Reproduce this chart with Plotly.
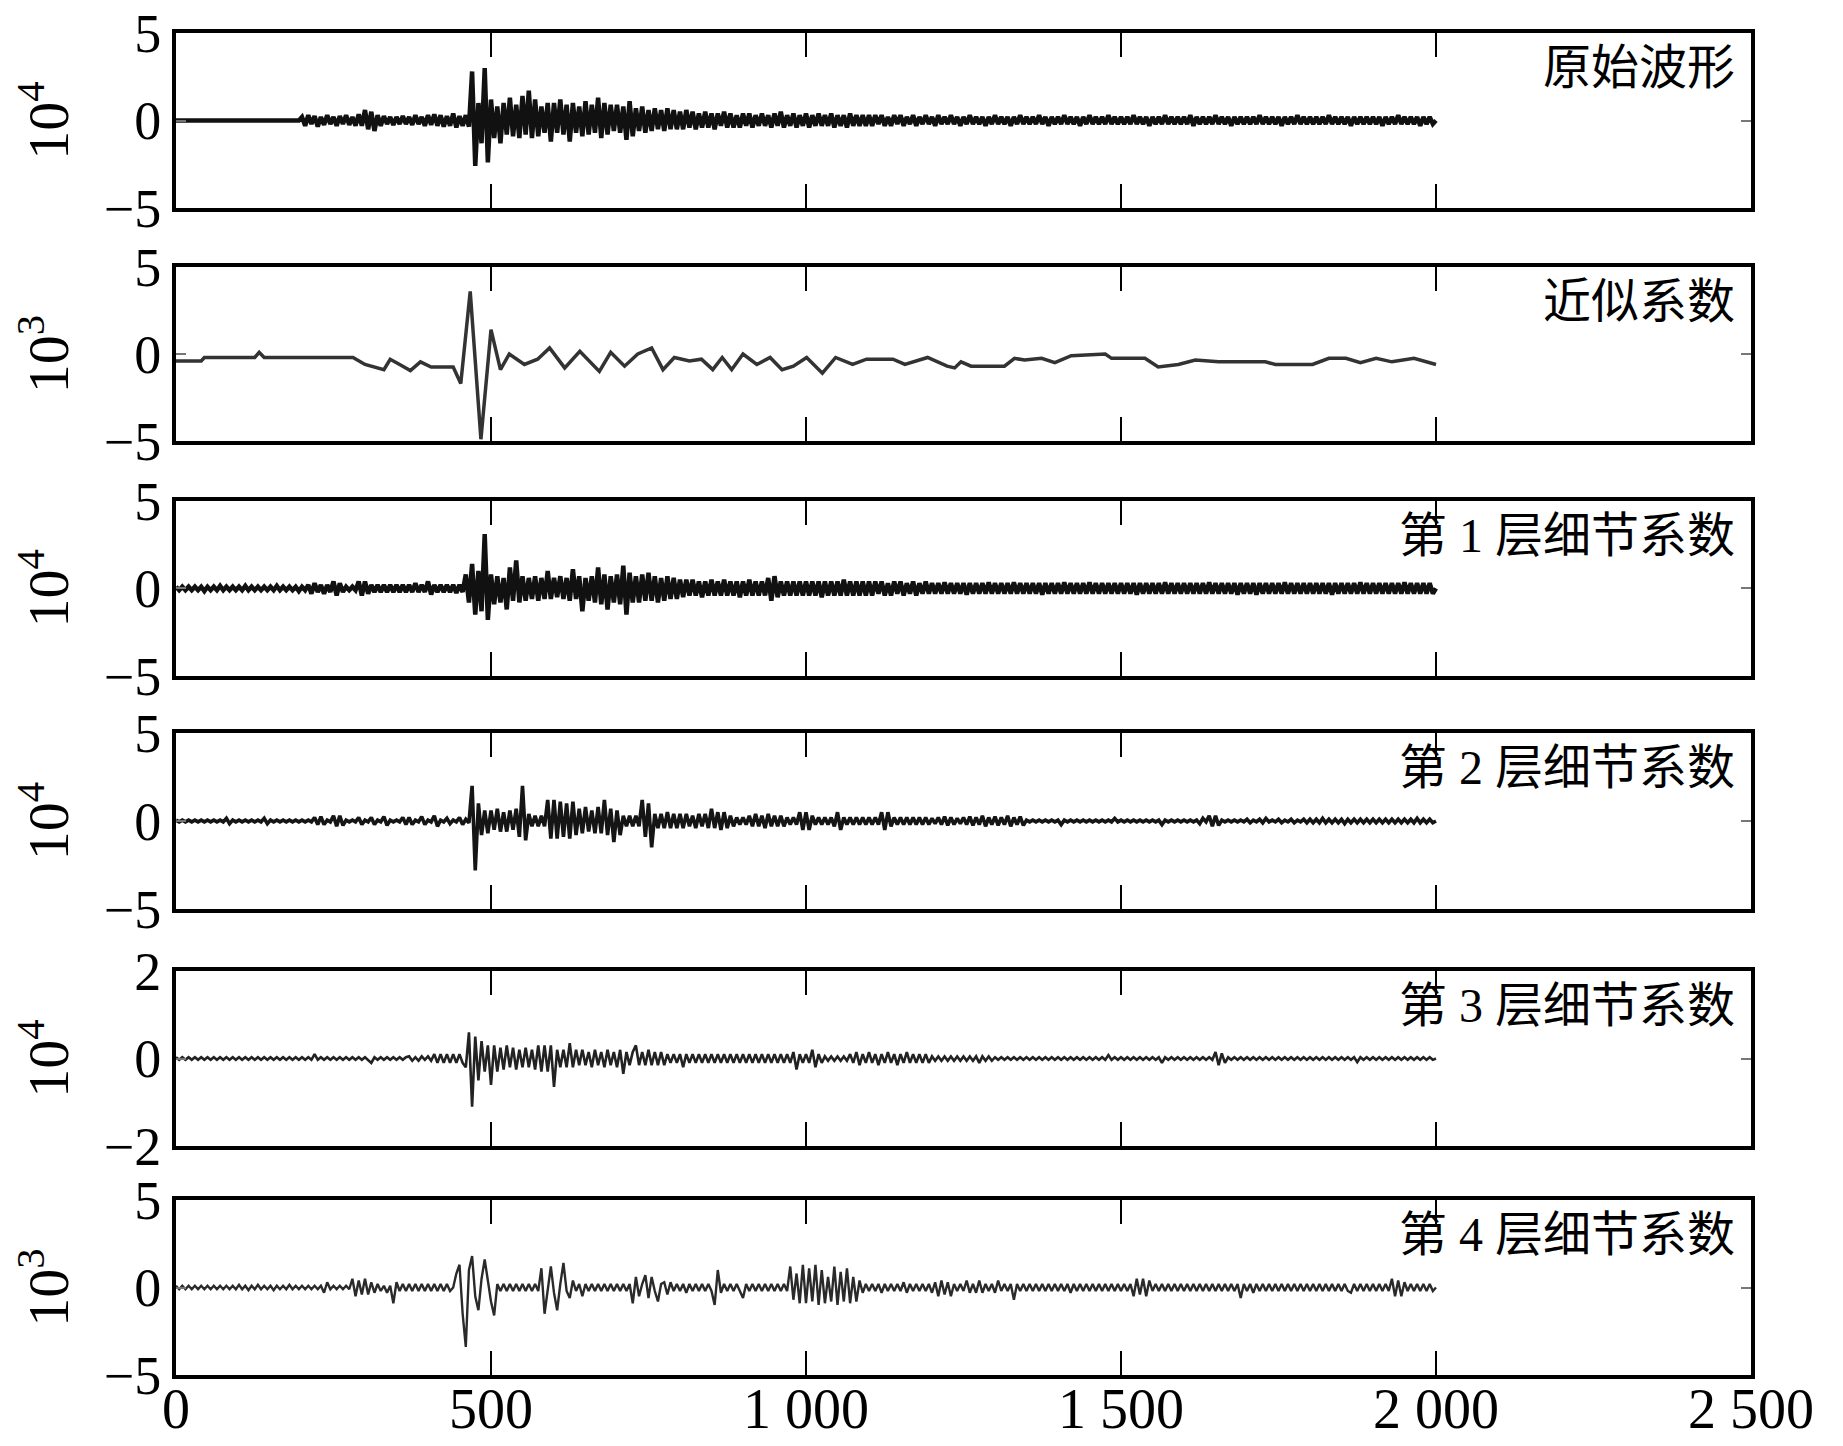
import plotly.graph_objects as go

# ---------------- data ----------------
x_tick_vals = [0, 500, 1000, 1500, 2000, 2500]
x_tick_text = ["0", "500", "1 000", "1 500", "2 000", "2 500"]
sample_step = 5

panel_labels = ["原始波形", "近似系数", "第 1 层细节系数", "第 2 层细节系数", "第 3 层细节系数", "第 4 层细节系数"]
panel_exponents = ["10<sup>4</sup>", "10<sup>3</sup>", "10<sup>4</sup>", "10<sup>4</sup>", "10<sup>4</sup>", "10<sup>3</sup>"]
panel_limits = [5, 5, 5, 5, 2, 5]

# original waveform (x10^4), one value every 5 samples, 0..2000
orig_vals = [
    0,0,0,0,0,0,0,0,0,0,0,0,0,0,0,0,0,0,0,0,
    0,0,0,0,0,0,0,0,0,0,0,0,0,0,0,0,0,0,0,0,
    0.2,-0.3,0.3,-0.2,0.25,-0.35,0.2,-0.25,0.3,-0.2,0.2,-0.3,0.25,-0.2,0.3,-0.25,0.2,-0.3,0.35,-0.3,
    0.6,-0.5,0.5,-0.6,0.3,-0.3,0.25,-0.2,0.2,-0.25,0.2,-0.2,0.25,-0.2,0.2,-0.25,0.3,-0.2,0.2,-0.3,
    0.3,-0.25,0.35,-0.3,0.3,-0.35,0.25,-0.3,0.4,-0.4,0.25,-0.3,0.3,-0.35,2.8,-2.6,1.0,-1.3,3.0,-2.4,
    1.2,-1.0,0.8,-1.3,1.0,-0.8,1.3,-0.9,0.9,-1.0,1.4,-0.8,1.7,-1.0,1.2,-0.9,0.8,-0.7,1.0,-1.2,
    1.0,-0.7,1.2,-0.8,0.9,-1.2,1.0,-0.7,0.8,-0.9,1.1,-0.8,0.9,-0.7,1.3,-1.0,1.0,-0.8,0.9,-0.6,
    0.9,-0.7,0.8,-1.1,1.1,-0.9,0.7,-0.6,0.8,-0.7,0.6,-0.6,0.7,-0.5,0.6,-0.6,0.7,-0.5,0.6,-0.5,
    0.5,-0.5,0.6,-0.4,0.5,-0.5,0.4,-0.4,0.5,-0.4,0.4,-0.5,0.4,-0.3,0.5,-0.4,0.4,-0.4,0.3,-0.4,
    0.4,-0.3,0.4,-0.4,0.3,-0.3,0.4,-0.3,0.3,-0.4,0.4,-0.3,0.5,-0.4,0.3,-0.3,0.4,-0.4,0.3,-0.3,
    0.4,-0.4,0.3,-0.3,0.4,-0.3,0.3,-0.3,0.4,-0.4,0.3,-0.3,0.3,-0.4,0.4,-0.3,0.3,-0.3,0.3,-0.3,
    0.3,-0.3,0.3,-0.2,0.3,-0.3,0.2,-0.3,0.3,-0.2,0.3,-0.3,0.2,-0.2,0.3,-0.3,0.2,-0.2,0.3,-0.2,
    0.2,-0.3,0.3,-0.2,0.2,-0.2,0.3,-0.2,0.2,-0.3,0.2,-0.2,0.3,-0.2,0.2,-0.2,0.2,-0.3,0.2,-0.2,
    0.3,-0.2,0.2,-0.2,0.2,-0.3,0.2,-0.2,0.3,-0.2,0.2,-0.2,0.2,-0.2,0.3,-0.2,0.2,-0.3,0.2,-0.2,
    0.2,-0.2,0.3,-0.2,0.2,-0.2,0.2,-0.3,0.2,-0.2,0.3,-0.2,0.2,-0.2,0.2,-0.2,0.3,-0.2,0.2,-0.2,
    0.2,-0.2,0.2,-0.2,0.3,-0.2,0.2,-0.2,0.2,-0.3,0.2,-0.2,0.2,-0.2,0.3,-0.2,0.2,-0.2,0.2,-0.2,
    0.2,-0.2,0.3,-0.3,0.2,-0.2,0.2,-0.2,0.2,-0.2,0.3,-0.2,0.2,-0.2,0.2,-0.3,0.2,-0.2,0.2,-0.2,
    0.2,-0.2,0.2,-0.2,0.3,-0.2,0.2,-0.2,0.2,-0.2,0.2,-0.3,0.2,-0.2,0.2,-0.2,0.3,-0.2,0.2,-0.2,
    0.2,-0.2,0.2,-0.2,0.2,-0.2,0.3,-0.2,0.2,-0.2,0.2,-0.2,0.2,-0.3,0.2,-0.2,0.2,-0.2,0.2,-0.2,
    0.2,-0.2,0.2,-0.3,0.2,-0.2,0.2,-0.2,0.3,-0.2,0.2,-0.2,0.2,-0.2,0.2,-0.3,0.2,-0.2,0.2,-0.2,
    0.0,
]

# approximation coefficients (x10^3): breakpoints
approx_x = [0, 40, 45, 125, 132, 140, 281, 300, 330, 340, 355, 372, 388, 405, 440, 452, 467, 484, 500,
            515, 529, 553, 574, 593, 617, 641, 672, 690, 712, 733, 755, 773, 791, 815, 834, 852, 867,
            882, 900, 922, 943, 962, 980, 1001, 1026, 1047, 1074, 1096, 1138, 1157, 1193, 1224, 1236,
            1246, 1262, 1315, 1331, 1347, 1374, 1395, 1421, 1475, 1485, 1538, 1559, 1591, 1618, 1655,
            1729, 1745, 1804, 1830, 1857, 1880, 1905, 1930, 1965, 2000]
approx_y = [-0.4, -0.4, -0.2, -0.2, 0.1, -0.2, -0.2, -0.6, -0.9, -0.3, -0.6, -0.95, -0.45, -0.75, -0.75,
            -1.7, 3.6, -4.9, 1.4, -0.9, 0.0, -0.6, -0.3, 0.35, -0.8, 0.15, -1.0, 0.1, -0.7, 0.0, 0.35,
            -0.9, -0.2, -0.4, -0.3, -0.9, -0.2, -0.9, 0.0, -0.6, -0.2, -0.9, -0.7, -0.2, -1.1, -0.2,
            -0.6, -0.3, -0.3, -0.6, -0.2, -0.7, -0.8, -0.45, -0.7, -0.7, -0.25, -0.35, -0.25, -0.5,
            -0.1, 0.0, -0.25, -0.25, -0.75, -0.6, -0.35, -0.45, -0.45, -0.6, -0.6, -0.25, -0.25, -0.5,
            -0.25, -0.45, -0.25, -0.6]

# level-1 detail (x10^4)
d1_vals = [
    0.1,-0.1,0.1,-0.1,0.1,-0.1,0.1,-0.1,0.1,-0.15,0.1,-0.1,0.1,-0.1,0.15,-0.1,0.1,-0.1,0.1,-0.1,
    0.1,-0.1,0.15,-0.1,0.1,-0.1,0.1,-0.1,0.1,-0.1,0.1,-0.1,0.15,-0.1,0.1,-0.1,0.1,-0.1,0.1,-0.15,
    0.1,-0.1,0.2,-0.3,0.3,-0.2,0.2,-0.3,0.2,-0.2,0.4,-0.4,0.3,-0.2,0.1,-0.1,0.1,-0.1,0.4,-0.4,
    0.4,-0.3,0.2,-0.2,0.2,-0.2,0.2,-0.2,0.2,-0.2,0.2,-0.2,0.2,-0.2,0.2,-0.2,0.3,-0.2,0.2,-0.2,
    0.4,-0.35,0.2,-0.2,0.2,-0.2,0.2,-0.2,0.2,-0.25,0.2,-0.2,0.8,-0.8,1.4,-1.5,1.0,-1.3,3.1,-1.8,
    0.8,-0.9,0.7,-0.8,0.6,-1.2,1.2,-0.7,1.6,-0.8,0.7,-0.7,0.6,-0.6,0.7,-0.7,0.6,-0.6,1.0,-0.6,
    0.6,-0.5,0.7,-0.6,0.6,-0.7,1.1,-0.6,0.7,-1.3,0.6,-0.7,0.7,-0.8,1.2,-0.9,0.8,-1.2,0.7,-0.8,
    0.8,-0.9,1.3,-1.5,0.9,-0.8,0.7,-0.8,0.8,-0.7,0.9,-0.7,0.7,-0.8,0.6,-0.7,0.7,-0.6,0.6,-0.6,
    0.5,-0.5,0.5,-0.4,0.5,-0.4,0.4,-0.5,0.4,-0.4,0.5,-0.4,0.4,-0.4,0.5,-0.4,0.4,-0.4,0.4,-0.5,
    0.4,-0.4,0.5,-0.4,0.4,-0.4,0.4,-0.4,0.6,-0.7,0.7,-0.5,0.4,-0.4,0.4,-0.4,0.4,-0.4,0.4,-0.4,
    0.4,-0.4,0.4,-0.4,0.4,-0.5,0.4,-0.4,0.4,-0.4,0.4,-0.4,0.5,-0.4,0.4,-0.4,0.4,-0.4,0.4,-0.4,
    0.4,-0.4,0.4,-0.3,0.4,-0.4,0.3,-0.4,0.4,-0.3,0.4,-0.4,0.3,-0.3,0.4,-0.4,0.3,-0.3,0.4,-0.3,
    0.3,-0.3,0.3,-0.3,0.35,-0.3,0.3,-0.3,0.3,-0.3,0.3,-0.35,0.3,-0.3,0.3,-0.3,0.3,-0.3,0.35,-0.3,
    0.3,-0.3,0.3,-0.3,0.3,-0.3,0.35,-0.3,0.3,-0.3,0.3,-0.3,0.3,-0.3,0.3,-0.35,0.3,-0.3,0.3,-0.3,
    0.3,-0.3,0.35,-0.3,0.3,-0.3,0.3,-0.3,0.3,-0.3,0.35,-0.3,0.3,-0.3,0.3,-0.3,0.3,-0.3,0.3,-0.3,
    0.3,-0.3,0.3,-0.3,0.3,-0.35,0.3,-0.3,0.3,-0.3,0.3,-0.3,0.3,-0.3,0.35,-0.3,0.3,-0.3,0.3,-0.3,
    0.3,-0.3,0.3,-0.3,0.3,-0.3,0.3,-0.3,0.35,-0.3,0.3,-0.3,0.3,-0.3,0.3,-0.3,0.3,-0.35,0.3,-0.3,
    0.3,-0.3,0.3,-0.35,0.3,-0.3,0.3,-0.3,0.3,-0.3,0.3,-0.3,0.35,-0.3,0.3,-0.3,0.3,-0.3,0.3,-0.3,
    0.3,-0.3,0.3,-0.3,0.3,-0.3,0.3,-0.35,0.3,-0.3,0.3,-0.3,0.3,-0.3,0.3,-0.3,0.35,-0.3,0.3,-0.3,
    0.3,-0.3,0.3,-0.3,0.3,-0.3,0.3,-0.3,0.3,-0.3,0.35,-0.3,0.3,-0.3,0.3,-0.3,0.3,-0.3,0.3,-0.3,
    0.0,
]

# level-2 detail (x10^4)
d2_vals = [
    0.05,-0.05,0.05,-0.05,0.05,-0.05,0.05,-0.05,0.05,-0.05,0.05,-0.05,0.05,-0.05,0.05,-0.05,0.15,-0.15,0.05,-0.05,
    0.05,-0.05,0.05,-0.05,0.05,-0.05,0.05,-0.05,0.15,-0.15,0.05,-0.05,0.05,-0.05,0.05,-0.05,0.05,-0.05,0.05,-0.05,
    0.05,-0.05,0.05,-0.05,0.2,-0.2,0.25,-0.2,0.05,-0.05,0.3,-0.3,0.3,-0.25,0.05,-0.05,0.05,-0.05,0.2,-0.2,
    0.05,-0.05,0.2,-0.2,0.05,-0.05,0.25,-0.25,0.05,-0.05,0.05,-0.05,0.2,-0.2,0.2,-0.2,0.05,-0.05,0.25,-0.2,
    0.05,-0.05,0.3,-0.3,0.05,-0.05,0.15,-0.15,0.05,-0.05,0.2,-0.2,0.1,-0.1,2.0,-2.8,1.0,-0.8,0.6,-0.7,
    0.6,-0.5,0.7,-0.6,0.5,-0.6,0.6,-0.5,0.7,-0.9,2.0,-1.1,0.4,-0.3,0.3,-0.3,0.3,-0.3,1.2,-1.0,
    1.2,-1.0,1.1,-0.9,1.0,-1.0,1.1,-0.8,0.7,-0.7,0.8,-0.6,0.6,-0.7,0.8,-0.7,1.2,-0.8,0.7,-1.2,
    0.6,-0.8,0.3,-0.3,0.3,-0.3,0.3,-0.3,1.2,-0.9,1.0,-1.5,0.4,-0.4,0.4,-0.4,0.5,-0.4,0.4,-0.4,
    0.4,-0.4,0.4,-0.3,0.3,-0.4,0.4,-0.3,0.4,-0.4,0.7,-0.4,0.5,-0.5,0.5,-0.4,0.3,-0.3,0.2,-0.2,
    0.2,-0.2,0.3,-0.3,0.4,-0.3,0.3,-0.4,0.4,-0.3,0.3,-0.3,0.3,-0.3,0.2,-0.2,0.2,-0.2,0.5,-0.5,
    0.5,-0.5,0.3,-0.2,0.2,-0.2,0.2,-0.2,0.2,-0.3,0.5,-0.5,0.2,-0.2,0.2,-0.2,0.2,-0.2,0.2,-0.2,
    0.2,-0.2,0.2,-0.2,0.5,-0.5,0.5,-0.3,0.2,-0.2,0.2,-0.2,0.2,-0.2,0.2,-0.2,0.2,-0.2,0.2,-0.2,
    0.15,-0.15,0.2,-0.2,0.25,-0.25,0.2,-0.2,0.15,-0.15,0.2,-0.2,0.25,-0.25,0.2,-0.2,0.3,-0.3,0.2,-0.2,
    0.25,-0.25,0.2,-0.2,0.3,-0.3,0.2,-0.2,0.25,-0.25,0.05,-0.05,0.05,-0.05,0.05,-0.05,0.05,-0.05,0.05,-0.05,
    0.05,-0.2,0.05,-0.05,0.05,-0.05,0.05,-0.05,0.05,-0.05,0.05,-0.05,0.05,-0.05,0.05,-0.05,0.05,-0.05,0.15,-0.05,
    0.05,-0.05,0.05,-0.05,0.05,-0.05,0.05,-0.05,0.05,-0.05,0.05,-0.05,0.05,-0.2,0.05,-0.05,0.05,-0.05,0.05,-0.05,
    0.05,-0.05,0.05,-0.05,0.05,-0.15,0.15,-0.05,0.3,-0.3,0.3,-0.25,0.05,-0.05,0.05,-0.05,0.05,-0.05,0.05,-0.05,
    0.1,-0.1,0.05,-0.05,0.1,-0.1,0.15,-0.05,0.05,-0.05,0.1,-0.1,0.05,-0.05,0.1,-0.1,0.05,-0.05,0.1,-0.1,
    0.1,-0.1,0.1,-0.1,0.15,-0.1,0.1,-0.1,0.1,-0.1,0.1,-0.15,0.1,-0.1,0.1,-0.1,0.1,-0.1,0.1,-0.1,
    0.1,-0.1,0.1,-0.1,0.1,-0.1,0.1,-0.1,0.1,-0.1,0.1,-0.1,0.1,-0.1,0.15,-0.1,0.1,-0.1,0.1,-0.1,
    0.0,
]

# level-3 detail (x10^4)
d3_vals = [
    0.03,-0.03,0.03,-0.03,0.03,-0.03,0.03,-0.03,0.03,-0.03,0.03,-0.03,0.03,-0.03,0.03,-0.03,0.03,-0.03,0.03,-0.03,
    0.03,-0.03,0.03,-0.03,0.03,-0.03,0.03,-0.03,0.03,-0.03,0.03,-0.03,0.03,-0.03,0.03,-0.03,0.03,-0.03,0.03,-0.03,
    0.03,-0.03,0.03,-0.03,0.1,-0.03,0.03,-0.03,0.03,-0.03,0.03,-0.03,0.03,-0.03,0.03,-0.03,0.03,-0.03,0.03,-0.03,
    0.03,-0.03,-0.1,0.03,-0.03,0.03,-0.03,0.03,-0.03,0.03,-0.03,0.03,-0.03,0.03,0.05,-0.05,0.03,-0.05,0.05,-0.03,
    0.05,-0.05,0.1,-0.1,0.1,-0.1,0.1,-0.1,0.1,-0.1,0.1,-0.1,-0.2,0.6,-1.1,0.5,-0.5,0.4,-0.3,0.3,
    -0.6,0.3,-0.3,0.25,-0.25,0.3,-0.2,0.25,-0.25,0.2,-0.2,0.25,-0.2,0.2,-0.25,0.3,-0.3,0.3,-0.3,0.3,
    -0.65,0.2,-0.2,0.2,-0.2,0.35,-0.2,0.2,-0.15,0.2,-0.15,0.15,-0.2,0.2,-0.15,0.15,-0.2,0.2,-0.15,0.15,
    -0.2,0.2,-0.35,0.15,-0.15,0.15,0.3,-0.15,0.15,-0.15,0.2,-0.15,0.15,-0.15,0.15,-0.15,0.1,-0.1,0.1,-0.1,
    0.1,-0.2,0.1,-0.1,0.1,-0.1,0.1,-0.1,0.1,-0.1,0.1,-0.1,0.1,-0.1,0.1,-0.1,0.1,-0.1,0.1,-0.1,
    0.1,-0.1,0.1,-0.1,0.1,-0.1,0.1,-0.1,0.1,-0.1,0.1,-0.1,0.1,-0.1,0.1,-0.1,0.15,-0.25,0.1,-0.1,
    0.1,-0.1,0.2,-0.2,0.1,-0.1,0.05,-0.05,0.05,-0.05,0.05,-0.05,0.05,-0.05,0.1,-0.1,0.15,-0.15,0.1,-0.1,
    0.15,-0.1,0.1,-0.15,0.1,-0.1,0.15,-0.1,0.1,-0.15,0.1,-0.1,0.15,-0.1,0.1,-0.1,0.1,-0.1,0.1,-0.1,
    0.05,-0.05,0.05,-0.05,0.05,-0.05,0.05,-0.05,0.05,-0.05,0.05,-0.05,0.05,-0.05,0.05,-0.1,0.05,-0.05,0.05,-0.05,
    0.03,-0.03,0.03,-0.03,0.03,-0.03,0.03,-0.03,0.03,-0.03,0.03,-0.03,0.03,-0.03,0.03,-0.03,0.03,-0.03,0.03,-0.03,
    0.03,-0.03,0.03,-0.03,0.03,-0.03,0.03,-0.03,0.03,-0.03,0.03,-0.03,0.03,-0.03,0.03,-0.03,0.08,-0.03,0.03,-0.03,
    0.03,-0.03,0.03,-0.03,0.03,-0.03,0.03,-0.03,0.03,-0.03,0.03,-0.03,0.03,-0.1,0.03,-0.03,0.03,-0.03,0.03,-0.03,
    0.03,-0.03,0.03,-0.03,0.03,-0.03,0.03,-0.03,0.03,-0.03,0.15,-0.15,0.12,-0.1,0.03,-0.03,0.03,-0.03,0.03,-0.03,
    0.03,-0.03,0.03,-0.03,0.03,-0.03,0.03,-0.03,0.03,-0.03,0.03,-0.03,0.03,-0.03,0.03,-0.03,0.03,-0.03,0.03,-0.03,
    0.03,-0.03,0.03,-0.03,0.03,-0.03,0.03,-0.03,0.03,-0.03,0.03,-0.03,0.03,-0.03,0.03,-0.08,0.03,-0.03,0.03,-0.03,
    0.03,-0.03,0.03,-0.03,0.03,-0.03,0.03,-0.03,0.03,-0.03,0.03,-0.03,0.03,-0.03,0.03,-0.03,0.03,-0.03,0.03,-0.03,
    0.0,
]

# level-4 detail (x10^3)
d4_vals = [
    0.1,-0.1,0.1,-0.1,0.1,-0.1,0.1,-0.1,0.1,-0.1,0.1,-0.1,0.1,-0.1,0.1,-0.1,0.1,-0.1,0.1,-0.1,
    0.15,-0.1,0.1,-0.15,0.1,-0.1,0.15,-0.1,0.1,-0.1,0.1,-0.15,0.1,-0.1,0.1,-0.1,0.15,-0.1,0.1,-0.1,
    0.1,-0.1,0.1,-0.1,0.1,-0.1,0.1,-0.3,0.3,-0.1,0.1,-0.1,0.1,-0.1,0.1,-0.1,0.5,-0.5,0.4,-0.4,
    0.5,-0.4,0.3,-0.3,0.2,-0.2,0.1,-0.3,0.1,-0.9,0.3,-0.2,0.2,-0.2,0.2,-0.2,0.2,-0.2,0.2,-0.2,
    0.2,-0.2,0.2,-0.2,0.2,-0.2,0.2,-0.2,0.0,0.8,1.3,-1.5,-3.4,1.0,1.8,-0.5,-1.3,0.5,1.6,0.5,
    -0.8,-1.6,0.2,-0.2,0.2,-0.2,0.2,-0.2,0.2,-0.2,0.2,-0.2,0.2,-0.2,0.2,-0.2,1.1,-1.5,-0.2,1.2,
    -0.3,-1.3,0.2,1.4,-0.2,-0.6,0.4,-0.2,0.2,-0.5,0.2,-0.2,0.2,-0.2,0.2,-0.2,0.2,-0.2,0.2,-0.2,
    0.2,-0.2,0.2,-0.2,0.2,-0.9,0.6,-0.5,0.2,0.7,-0.6,0.6,-0.2,-0.8,0.2,0.3,-0.4,0.3,-0.2,0.2,
    -0.2,0.2,-0.3,0.2,-0.2,0.2,-0.2,0.2,-0.2,0.2,-0.2,-1.0,1.0,-0.3,0.2,-0.2,0.2,-0.2,0.2,-0.2,
    -0.6,0.2,-0.2,0.2,-0.2,0.2,-0.2,0.2,-0.2,0.2,-0.2,0.2,-0.2,0.2,-0.2,1.2,-0.7,0.8,-0.9,1.3,
    -0.9,1.1,-0.8,1.3,-1.0,1.0,-0.9,0.6,-0.8,1.2,-1.0,0.9,-0.8,1.1,-0.9,0.6,-0.8,0.4,-0.3,0.2,
    -0.2,0.2,-0.2,0.2,-0.3,0.2,-0.2,0.2,-0.2,0.2,-0.2,0.3,-0.3,0.2,-0.2,0.2,-0.2,0.2,-0.2,0.2,
    -0.3,0.3,-0.5,0.4,-0.4,0.3,-0.5,0.2,-0.2,0.2,-0.2,0.4,-0.3,0.2,-0.3,0.4,-0.3,0.2,-0.2,0.2,
    -0.3,0.4,-0.2,0.2,-0.2,0.2,-0.7,0.2,-0.2,0.2,-0.2,0.2,-0.2,0.2,-0.2,0.2,-0.2,0.2,-0.2,0.2,
    -0.2,0.2,-0.2,0.2,-0.3,0.2,-0.2,0.2,-0.2,0.2,-0.2,0.2,-0.2,0.2,-0.2,0.2,-0.2,0.2,-0.2,0.2,
    -0.2,0.2,-0.2,0.2,-0.5,0.5,-0.4,0.5,-0.5,0.4,-0.2,0.2,-0.2,0.2,-0.2,0.2,-0.2,0.2,-0.2,0.2,
    -0.2,0.2,-0.2,0.2,-0.2,0.2,-0.2,0.2,-0.2,0.2,-0.2,0.2,-0.2,0.2,-0.2,0.2,-0.2,0.2,-0.6,0.2,
    -0.2,0.2,-0.3,0.2,-0.2,0.2,-0.2,0.2,-0.2,0.2,-0.2,0.2,-0.2,0.2,-0.2,0.2,-0.2,0.2,-0.2,0.2,
    -0.2,0.2,-0.2,0.2,-0.2,0.2,-0.2,0.2,-0.2,0.2,-0.2,0.2,-0.2,-0.3,0.2,-0.2,0.2,-0.2,0.2,-0.2,
    0.2,-0.2,0.2,-0.2,0.2,-0.2,0.5,-0.5,0.4,-0.5,0.3,-0.2,0.2,-0.2,0.2,-0.2,0.2,-0.2,0.2,-0.2,
    0.0,
]

# ---------------- figure ----------------
def sampled(vals):
    return [sample_step * i for i in range(len(vals))], vals

series = [sampled(orig_vals), (approx_x, approx_y), sampled(d1_vals),
          sampled(d2_vals), sampled(d3_vals), sampled(d4_vals)]
line_styles = [("#111111", 4.5), ("#333333", 3.5), ("#111111", 4.5),
               ("#151515", 3.6), ("#222222", 2.6), ("#2a2a2a", 2.4)]

# panel vertical domains (paper fractions)
domains = [[0.8696, 1.0], [0.6960, 0.8256], [0.5209, 0.6513],
           [0.3472, 0.4784], [0.1706, 0.3010], [0.0, 0.1304]]

SERIF = "Liberation Serif, Times New Roman, serif"
CJK = "Liberation Serif, Noto Sans CJK SC, serif"

fig = go.Figure()
# the page has an 8px body margin, so the figure is drawn 8px in from the top-left
layout = dict(
    width=1835, height=1438,
    margin=dict(l=168, r=92, t=25, b=71),
    paper_bgcolor="white", plot_bgcolor="white",
    showlegend=False,
    font=dict(family=SERIF, size=54, color="black"),
)
annotations = []
for i, ((xs, ys), (col, lw)) in enumerate(zip(series, line_styles)):
    n = i + 1
    xa = "x" if n == 1 else f"x{n}"
    ya = "y" if n == 1 else f"y{n}"
    fig.add_trace(go.Scatter(x=xs, y=ys, mode="lines", xaxis=xa, yaxis=ya,
                             line=dict(color=col, width=lw), hoverinfo="skip"))
    lim = panel_limits[i]
    layout["xaxis" if n == 1 else f"xaxis{n}"] = dict(
        domain=[0, 1], anchor=ya, range=[0, 2500],
        tickvals=x_tick_vals, ticktext=x_tick_text,
        showticklabels=False, ticks="inside", ticklen=24, tickwidth=2,
        tickcolor="black", mirror="allticks", showline=True, linewidth=4,
        linecolor="black", showgrid=False, zeroline=False, automargin=False,
    )
    layout["yaxis" if n == 1 else f"yaxis{n}"] = dict(
        domain=domains[i], anchor=xa, range=[-lim, lim],
        tickvals=[-lim, 0, lim], ticktext=["\u2212" + str(lim), "0", str(lim)],
        ticks="inside", ticklen=10, tickwidth=2, tickcolor="#777777",
        mirror="allticks", showline=True, linewidth=4, linecolor="black",
        showgrid=False, zeroline=False, ticklabeloverflow="allow",
        tickfont=dict(family=SERIF, size=54), automargin=False,
        title=dict(text=panel_exponents[i], font=dict(family=SERIF, size=58), standoff=20),
    )
    annotations.append(dict(
        text=panel_labels[i], xref=f"{xa} domain", yref=f"{ya} domain",
        x=1, y=1, xanchor="right", yanchor="top", xshift=-14, yshift=-6,
        showarrow=False, font=dict(family=CJK, size=48, color="black"),
    ))

# x tick labels of the bottom axis, placed on the bottom axis' own scale
for v, t in zip(x_tick_vals, x_tick_text):
    annotations.append(dict(
        text=t, xref="x6", yref="paper", x=v, y=0, xanchor="center", yanchor="top",
        yshift=-1, showarrow=False, font=dict(family=SERIF, size=56, color="black"),
    ))
layout["annotations"] = annotations
fig.update_layout(**layout)
fig.write_html("out.html")
